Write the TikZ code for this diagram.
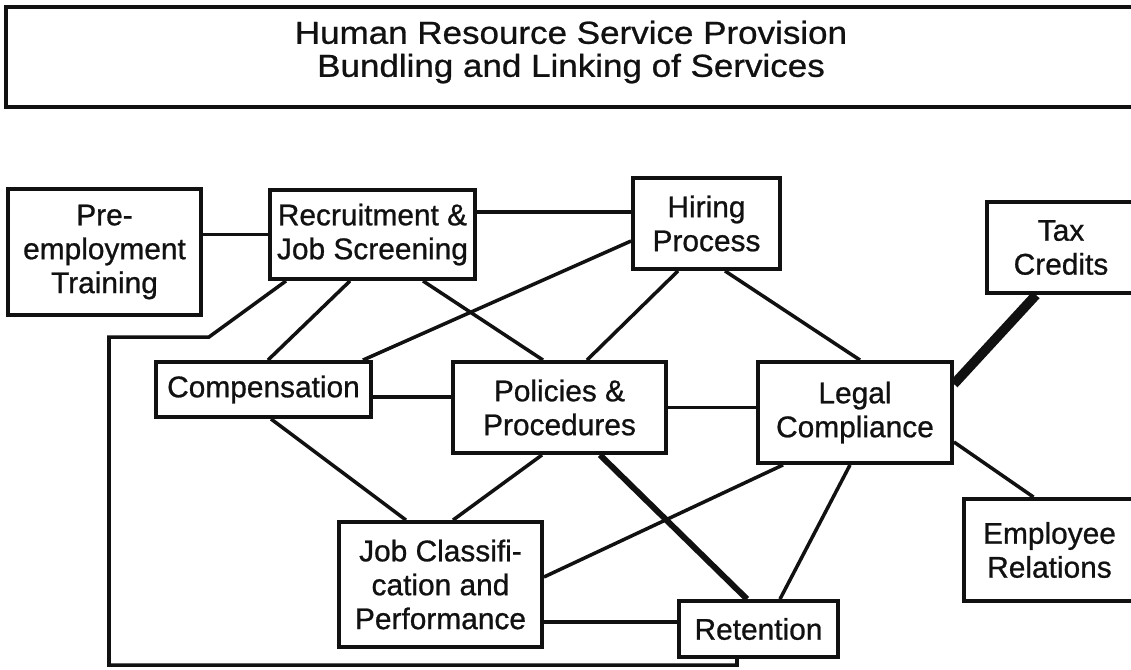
\documentclass[tikz,border=0pt]{standalone}
\usepackage{fontspec}
\setmainfont{Liberation Sans}[FakeBold=0.8]
\newfontfamily\bannerfont{Liberation Sans}[FakeStretch=1.1,FakeBold=0.8]
\usepackage{xcolor}
\usepackage{tikz}
\usetikzlibrary{positioning,calc}
\definecolor{inkblack}{RGB}{17,17,17}

\begin{document}
\begin{tikzpicture}[
  svc/.style={draw=inkblack,line width=2.2pt,fill=white,inner sep=0pt,
              font=\fontsize{17}{19.3}\selectfont,text=inkblack,align=center},
  banner/.style={draw=inkblack,line width=2.2pt,inner sep=0pt,text depth=0.33cm,
              font=\bannerfont\fontsize{18.1}{18.8}\selectfont,text=inkblack,align=center},
  link/.style={line width=2pt,color=inkblack},
  strong/.style={line width=3.4pt,color=inkblack},
  heavy/.style={line width=5.5pt,color=inkblack}
]
\clip (0,0) rectangle (22.62,-13.38);
\node[banner,minimum width=22.6cm,minimum height=2.0cm] (title) at (11.42,-1.14)
  {Human Resource Service Provision\\Bundling and Linking of Services};

\node[svc,minimum width=3.86cm,minimum height=2.52cm] (pre)   at (2.09,-5.04)  {Pre-\\employment\\Training};
\node[svc,minimum width=4.1cm,minimum height=1.78cm]  (rec)   at (7.45,-4.69)  {Recruitment \&\\Job Screening};
\node[svc,minimum width=2.94cm,minimum height=1.82cm] (hire)  at (14.13,-4.47) {Hiring\\Process};
\node[svc,minimum width=2.96cm,minimum height=1.82cm] (tax)   at (21.22,-4.95) {Tax\\Credits};
\node[svc,minimum width=4.3cm,minimum height=1.1cm]   (comp)  at (5.27,-7.79)  {Compensation};
\node[svc,minimum width=4.26cm,minimum height=1.82cm] (pol)   at (11.19,-8.15) {Policies \&\\Procedures};
\node[svc,minimum width=3.88cm,minimum height=2.02cm] (legal) at (17.1,-8.25)  {Legal\\Compliance};
\node[svc,minimum width=4.06cm,minimum height=2.5cm]  (job)   at (8.81,-11.69) {Job Classifi-\\cation and\\Performance};
\node[svc,minimum width=3.18cm,minimum height=1.12cm] (ret)   at (15.17,-12.58) {Retention};
\node[svc,minimum width=3.42cm,minimum height=2.04cm] (emp)   at (20.99,-11.0) {Employee\\Relations};

% corners of the loop from recruitment round to retention
\coordinate (bendA) at (4.18,-6.74);
\coordinate (bendB) at (2.18,-6.74);
\coordinate (bendC) at (2.18,-13.3);

\draw[link] (rec.west) -- (rec.west -| pre.east);
\draw[link] ([yshift=0.45cm]rec.east) -- ([yshift=0.45cm]rec.east -| hire.west);
\draw[link] ([xshift=-0.45cm]rec.south) -- ([xshift=0.09cm]comp.north);
\draw[link] ([xshift=1.01cm]rec.south) -- ([xshift=-0.33cm]pol.north);
\draw[link] ([yshift=-0.35cm]hire.west) -- ([xshift=-0.2cm]comp.north east);
\draw[link] ([xshift=-0.57cm]hire.south) -- ([xshift=0.55cm]pol.north);
\draw[link] ([xshift=0.37cm]hire.south) -- ([xshift=0.1cm]legal.north);
\draw[heavy] ([xshift=-0.5cm]tax.south) -- ([yshift=0.57cm]legal.east);
\draw[link] ([yshift=-0.15cm]comp.east) -- ([yshift=-0.15cm]comp.east -| pol.west);
\draw[link] (pol.east) -- (pol.east -| legal.west);
\draw[link] ([xshift=0.15cm]comp.south) -- ([xshift=-0.69cm]job.north);
\draw[link] ([xshift=-0.35cm]pol.south) -- ([xshift=0.25cm]job.north);
\draw[strong] ([xshift=0.81cm]pol.south) -- ([xshift=-0.23cm]ret.north);
\draw[link] ([xshift=-1.44cm]legal.south) -- ([yshift=0.15cm]job.east);
\draw[link] ([xshift=-0.1cm]legal.south) -- ([xshift=0.43cm]ret.north);
\draw[link] ([yshift=-0.59cm]legal.east) -- ([xshift=-0.32cm]emp.north);
\draw[link] ([yshift=0.14cm]ret.west) -- ([yshift=0.14cm]ret.west -| job.east);
\draw[link] ([xshift=-1.73cm]rec.south) -- (bendA) -- (bendB) -- (bendC) -| ([xshift=-0.43cm]ret.south);
\end{tikzpicture}
\end{document}
